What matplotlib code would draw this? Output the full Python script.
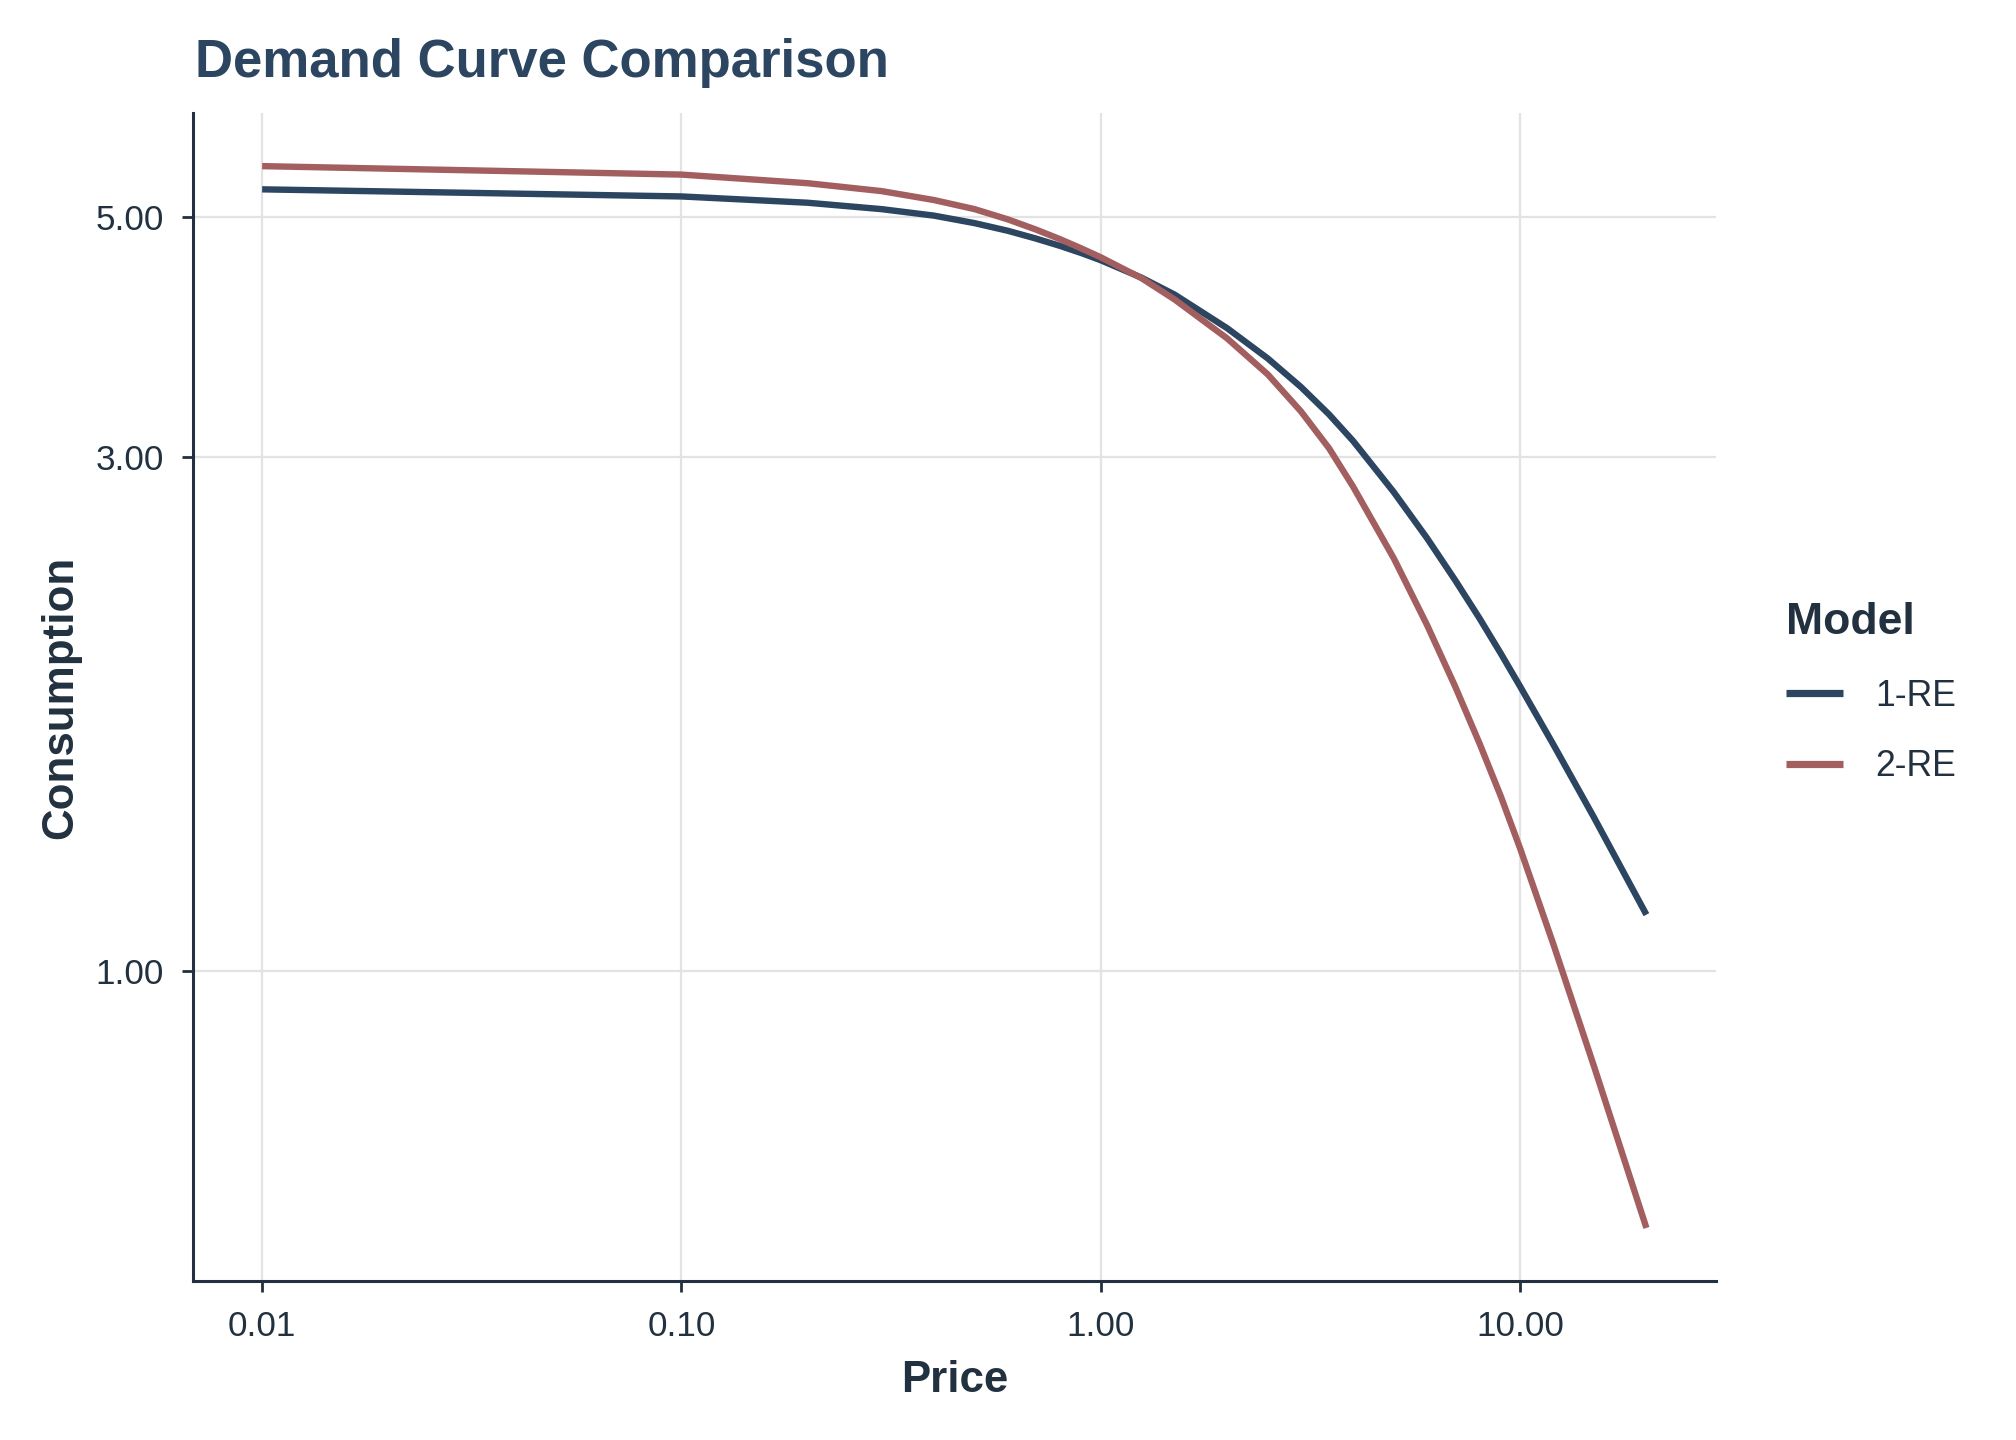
import numpy as np
import matplotlib.pyplot as plt
from matplotlib.ticker import FixedLocator, FixedFormatter, NullLocator

plt.rcParams['font.family'] = ['Liberation Sans', 'DejaVu Sans']

# prices and fitted consumption
price = [0.01, 0.1, 0.2, 0.3, 0.4, 0.5, 0.6, 0.7, 0.8, 0.9, 1.0, 1.25, 1.5,
         2, 2.5, 3, 3.5, 4, 5, 6, 7, 8, 9, 10, 12, 15, 20]
re1 = [5.31, 5.23, 5.16, 5.09, 5.02, 4.94, 4.86, 4.78, 4.705, 4.633, 4.563, 4.397, 4.240,
       3.947, 3.700, 3.481, 3.283, 3.100, 2.779, 2.519, 2.303, 2.123, 1.968, 1.835,
       1.621, 1.387, 1.127]
re2 = [5.58, 5.48, 5.38, 5.29, 5.19, 5.09, 4.980, 4.873, 4.773, 4.679, 4.592, 4.392, 4.196,
       3.862, 3.576, 3.304, 3.054, 2.811, 2.412, 2.092, 1.835, 1.625, 1.450, 1.298,
       1.058, 0.815, 0.577]
models = ['1-RE', '2-RE']
colors = ['#2c4560', '#a35f5f']

x_ticks = [0.01, 0.1, 1, 10]
x_labels = ['0.01', '0.10', '1.00', '10.00']
y_ticks = [1, 3, 5]
y_labels = ['1.00', '3.00', '5.00']

text_col = '#22313f'

fig = plt.figure(figsize=(10.08, 7.2), dpi=200)
ax = fig.add_axes([0.0957, 0.1104, 0.851 - 0.0957, 0.9215 - 0.1104])

for vals, name, c in zip([re1, re2], models, colors):
    ax.plot(price, vals, color=c, lw=2.3, label=name, solid_capstyle='butt',
            solid_joinstyle='round')

ax.set_xscale('log')
ax.set_yscale('log')

# ggplot style 5% expansion on log scales
lx = np.log10([min(price), max(price)])
dx = (lx[1] - lx[0]) * 0.05
ax.set_xlim(10 ** (lx[0] - dx), 10 ** (lx[1] + dx))
allv = re1 + re2
ly = np.log([min(allv), max(allv)])
dy = (ly[1] - ly[0]) * 0.05
ax.set_ylim(np.exp(ly[0] - dy), np.exp(ly[1] + dy))

ax.xaxis.set_major_locator(FixedLocator(x_ticks))
ax.xaxis.set_major_formatter(FixedFormatter(x_labels))
ax.xaxis.set_minor_locator(NullLocator())
ax.yaxis.set_major_locator(FixedLocator(y_ticks))
ax.yaxis.set_major_formatter(FixedFormatter(y_labels))
ax.yaxis.set_minor_locator(NullLocator())

ax.grid(True, color='#e3e3e3', lw=0.8)
ax.set_axisbelow(True)
for s in ['top', 'right']:
    ax.spines[s].set_visible(False)
for s in ['left', 'bottom']:
    ax.spines[s].set_color(text_col)
    ax.spines[s].set_linewidth(1.1)
ax.tick_params(axis='both', colors=text_col, labelsize=12.6, length=4, width=1.0, pad=6.5)

ax.set_xlabel('Price', fontsize=15.8, fontweight='bold', color=text_col, labelpad=6)
ax.set_ylabel('Consumption', fontsize=15.8, fontweight='bold', color=text_col, labelpad=5)

fig.text(0.0967, 0.956, 'Demand Curve Comparison', fontsize=19, fontweight='bold',
         color='#2c4560', va='center', ha='left')

leg = ax.legend(loc='upper left', bbox_to_anchor=(0.870, 0.604), bbox_transform=fig.transFigure,
                frameon=False, title='Model', fontsize=12.8, handlelength=1.6,
                handletextpad=0.9, labelspacing=1.0, alignment='left')
leg.get_title().set_fontsize(16)
leg.get_title().set_fontweight('bold')
leg.get_title().set_color(text_col)
for t in leg.get_texts():
    t.set_color(text_col)
for h in leg.get_lines():
    h.set_linewidth(2.6)

fig.savefig('out.png', dpi=200)
